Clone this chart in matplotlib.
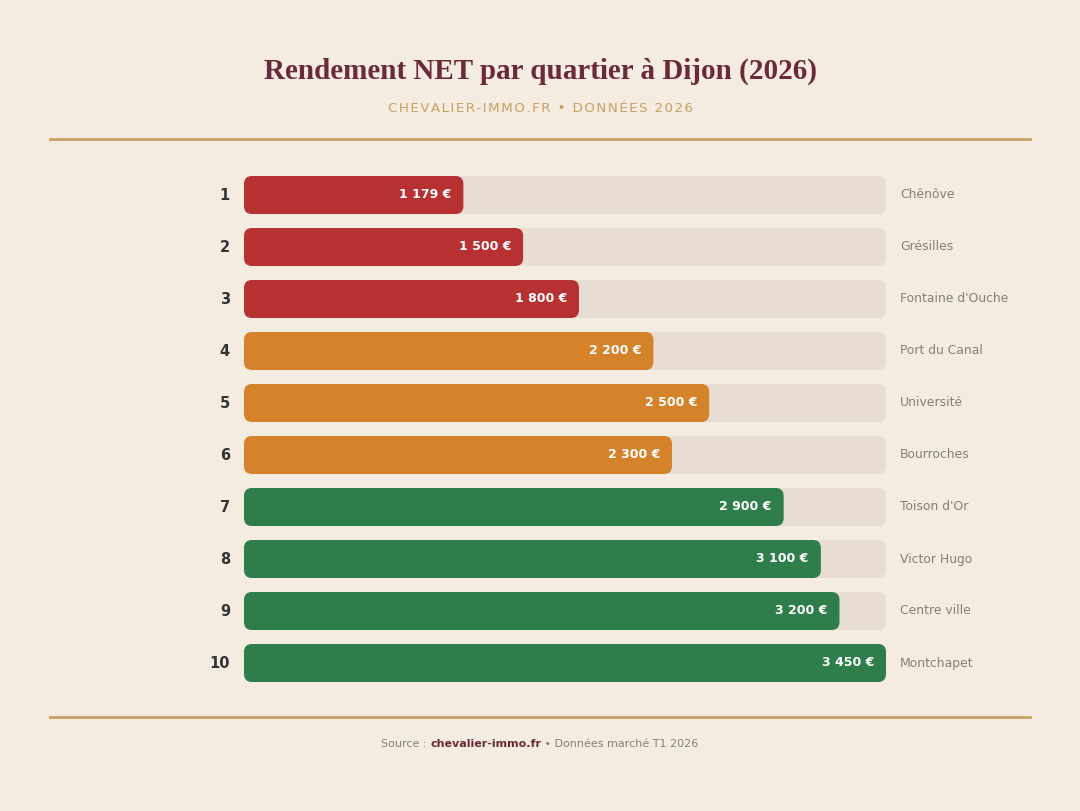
import matplotlib
matplotlib.use("Agg")
import matplotlib.pyplot as plt
from matplotlib.patches import FancyBboxPatch

# ---- data ----
ranks = [1, 2, 3, 4, 5, 6, 7, 8, 9, 10]
quartiers = ["Chênôve", "Grésilles", "Fontaine d'Ouche", "Port du Canal", "Université",
             "Bourroches", "Toison d'Or", "Victor Hugo", "Centre ville", "Montchapet"]
valeurs = [1179, 1500, 1800, 2200, 2500, 2300, 2900, 3100, 3200, 3450]
groupes = ["bas", "bas", "bas", "moyen", "moyen", "moyen", "haut", "haut", "haut", "haut"]

title = "Rendement NET par quartier à Dijon (2026)"
subtitle = "CHEVALIER-IMMO.FR • DONNÉES 2026"

# ---- style ----
BG = "#f5ece1"
TRACK = "#e8ddd3"
GOLD = "#c9a063"
MAROON = "#6b2a3a"
COLORS = {"bas": "#b83132", "moyen": "#d4832b", "haut": "#2e7d4a"}
W, H = 1080, 811

fig = plt.figure(figsize=(W / 100, H / 100), dpi=100, facecolor=BG)

def fx(px):
    return px / W

def fy(py):
    return 1 - py / H

# header
fig.text(0.5, fy(71), title, ha="center", va="center", fontsize=21,
         family="Liberation Serif", color=MAROON, fontweight="bold")
spaced = "\u200a".join(subtitle)
fig.text(0.5, fy(108), spaced, ha="center", va="center", fontsize=9.7,
         family="DejaVu Sans", color=GOLD, fontweight="normal")

# separator lines
for py in (139, 717):
    fig.add_artist(plt.Line2D([fx(50), fx(1030)], [fy(py), fy(py)], color=GOLD, lw=2))

# bar axes
x0, x1 = 244, 886
top, pitch = 169, 52
n = len(ranks)
ax = fig.add_axes([fx(x0), fy(top + pitch * n), fx(x1 - x0), pitch * n / H])
ax.set_facecolor("none")
vmax = max(valeurs)
ax.set_xlim(0, vmax)
ax.set_ylim(n + 0.5, 0.5)
ax.axis("off")

px_x = vmax / (x1 - x0)          # data units per pixel (x)
px_y = 1.0 / pitch               # data units per pixel (y)
bar_h = 38 * px_y
rad = 8 * px_x
aspect = px_y / px_x

for r, q, v, g in zip(ranks, quartiers, valeurs, groupes):
    track = FancyBboxPatch((0, r - bar_h / 2), vmax, bar_h,
                           boxstyle=f"round,pad=0,rounding_size={rad}",
                           mutation_aspect=aspect, fc=TRACK, ec="none")
    ax.add_patch(track)
    bar = FancyBboxPatch((0, r - bar_h / 2), v, bar_h,
                         boxstyle=f"round,pad=0,rounding_size={rad}",
                         mutation_aspect=aspect, fc=COLORS[g], ec="none")
    ax.add_patch(bar)
    label = f"{v:,}".replace(",", " ") + " €"
    ax.text(v - 12 * px_x, r, label, ha="right", va="center", color="white",
            fontsize=9, fontweight="bold", family="DejaVu Sans")
    ax.text(-14 * px_x, r, str(r), ha="right", va="center", color="#333333",
            fontsize=10.5, fontweight="bold", family="DejaVu Sans", clip_on=False)
    ax.text(vmax + 14 * px_x, r, q, ha="left", va="center", color="#8a7d72",
            fontsize=8.9, family="DejaVu Sans", clip_on=False)

# footer with mixed styles, centered
parts = [("Source : ", "normal", "#8a7d72"),
         ("chevalier-immo.fr", "bold", MAROON),
         (" • Données marché T1 2026", "normal", "#8a7d72")]
renderer = fig.canvas.get_renderer()
texts = []
for s, wgt, c in parts:
    t = fig.text(0, fy(744), s, ha="left", va="center", fontsize=8,
                 fontweight=wgt, color=c, family="DejaVu Sans")
    texts.append(t)
widths = [t.get_window_extent(renderer).width for t in texts]
start = W / 2 - sum(widths) / 2
for t, w in zip(texts, widths):
    t.set_x(fx(start))
    start += w

fig.savefig("out.png", dpi=100, facecolor=BG)
